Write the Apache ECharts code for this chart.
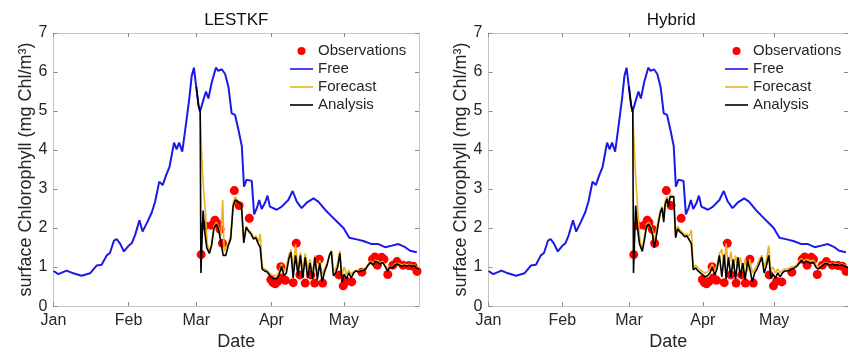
<!DOCTYPE html>
<html>
<head>
<meta charset="utf-8">
<script src="https://cdn.jsdelivr.net/npm/echarts@6/dist/echarts.min.js"></script>
<style>
  html, body { margin: 0; padding: 0; background: #ffffff; }
  #chart { width: 848px; height: 356px; }
</style>
</head>
<body>
<div id="chart"></div>
<script>
// Day of year (0 = 1 Jan) for the month ticks, and their labels
const monthTicks = [0, 31, 59, 90, 120];
const monthLabels = ['Jan', 'Feb', 'Mar', 'Apr', 'May'];
const dayMax = 151;
const chlMax = 7;

const panelTitles = ['LESTKF', 'Hybrid'];
const seriesNames = ['Observations', 'Free', 'Forecast', 'Analysis'];

// Free model run, [day, chlorophyll]
const free = [
  [0, 0.90], [2, 0.82], [5.4, 0.91], [8.2, 0.84], [11.6, 0.78], [15.1, 0.84], [17.8, 1.04],
  [19.9, 1.06], [22, 1.30], [23.3, 1.36], [25, 1.68], [26.1, 1.72], [27.5, 1.60], [29.1, 1.40],
  [30.9, 1.54], [32.3, 1.61], [33.7, 1.82], [35.5, 2.20], [36.8, 1.91], [38.8, 2.16], [40.6, 2.40],
  [42, 2.68], [43.7, 3.19], [45.1, 3.10], [46.5, 3.35], [47.9, 3.56], [49.8, 4.19], [50.9, 4.02],
  [51.9, 4.19], [53.2, 3.96], [54.7, 4.65], [56.1, 5.32], [57.1, 5.90], [58, 6.11], [58.9, 5.65],
  [59.9, 5.15], [60.5, 4.98], [61.9, 5.28], [63, 5.50], [64, 5.32], [65.4, 5.74], [67.1, 6.11],
  [68.1, 6.03], [69.5, 6.07], [70.9, 5.95], [72.3, 5.61], [73.6, 4.94], [75, 4.90], [76.4, 4.52],
  [77.8, 4.10], [78.7, 3.06], [79.8, 3.24], [81.9, 3.21], [82.9, 2.35], [84, 2.51], [85, 2.72],
  [86, 2.49], [87.4, 2.65], [88.4, 2.83], [89.4, 2.55], [92.2, 2.47], [94.3, 2.55], [97, 2.72],
  [98.8, 2.95], [100.5, 2.68], [102.5, 2.51], [104.6, 2.65], [107.4, 2.76], [109.4, 2.68],
  [112.2, 2.47], [114.9, 2.30], [117.7, 2.13], [119.8, 2.00], [122.2, 1.75], [125.3, 1.71],
  [128, 1.67], [131.5, 1.59], [134.2, 1.59], [137, 1.51], [139.8, 1.55], [142.5, 1.59],
  [145.3, 1.51], [147.3, 1.42], [150.1, 1.38]
];

// Satellite observations, [day, chlorophyll]
const observations = [
  [61.0, 1.32], [62.6, 2.06], [65.4, 2.07], [66.7, 2.20], [67.4, 2.14], [68.8, 1.97], [69.8, 1.61],
  [74.7, 2.96], [76.7, 2.58], [80.9, 2.25],
  [89.8, 0.68], [90.7, 0.60], [91.6, 0.57], [92.6, 0.63], [93.9, 1.01], [94.4, 0.72], [95.8, 0.66],
  [99.0, 0.60], [100.3, 1.61], [101.8, 0.80], [104.0, 0.59], [106.3, 0.80], [107.9, 0.59],
  [109.8, 1.20], [111.2, 0.59], [117.9, 0.80], [119.7, 0.52], [121.0, 0.64], [123.2, 0.62],
  [127.4, 0.87], [131.8, 1.20], [132.8, 1.26], [133.8, 1.05], [135.6, 1.25], [136.5, 1.20],
  [138.1, 0.81], [140.2, 1.05], [141.9, 1.14], [144.4, 1.05], [146.8, 1.04], [148.6, 1.02],
  [150.2, 0.89]
];

// LESTKF run
const lestkfForecast = [
  [60.6, 4.98], [61.4, 3.60], [62.1, 2.90], [62.8, 2.40], [63.5, 1.60], [64.4, 1.40], [65.3, 1.60],
  [66.3, 2.05], [67.3, 2.15], [68.3, 2.00], [69.2, 1.80], [69.9, 2.72], [70.5, 1.40], [71.2, 1.35],
  [72.2, 1.60], [73.2, 1.80], [74.2, 2.65], [75.1, 2.80], [76.1, 2.70], [76.9, 2.75], [77.6, 2.65],
  [78.4, 2.65], [78.6, 1.70], [79.6, 2.05], [80.6, 1.95], [81.6, 1.90], [82.6, 1.75], [83.6, 1.80],
  [84.6, 1.65], [85.4, 1.85], [86.2, 1.00], [87.2, 0.95], [88.2, 0.92], [89.2, 0.85], [90.2, 0.80],
  [91.2, 0.78], [92.2, 0.78], [93.2, 0.88], [94.2, 1.08], [95.2, 0.88], [96.2, 1.00], [97.2, 1.30],
  [98.1, 1.45], [99.0, 0.92], [100, 1.58], [101, 0.95], [102, 1.38], [103, 0.90], [104, 1.35],
  [105, 0.95], [106, 1.20], [107, 0.85], [108, 1.30], [109, 0.80], [110, 1.18], [111, 0.80],
  [112, 0.95], [113, 1.10], [114, 1.32], [114.8, 1.42], [115.6, 0.90], [116.5, 0.95], [117.4, 1.10],
  [118.3, 1.42], [119.2, 0.80], [120.1, 1.00], [121, 0.82], [122, 0.92], [123, 0.82], [124, 0.88],
  [125, 0.92], [126, 0.90], [127, 0.92], [128, 0.95], [129, 0.98], [130, 1.08], [131, 1.15],
  [132, 1.10], [133, 1.18], [134, 1.15], [135, 1.10], [136, 1.15], [137, 1.05], [138, 0.95],
  [139, 1.02], [140, 1.00], [141, 1.08], [142, 1.10], [143, 1.08], [144, 1.05], [145, 1.08],
  [146, 1.05], [147, 1.07], [148, 1.04], [149, 1.06], [150, 1.00], [151, 0.97]
];
const lestkfAnalysis = [
  [59, 5.62], [59.9, 5.15], [60.6, 4.98], [60.9, 0.85], [61.8, 2.45], [62.5, 1.90], [63.3, 1.50],
  [64.4, 1.35], [65.3, 1.55], [66.3, 2.00], [67.3, 2.10], [68.3, 1.95], [69.2, 1.62], [70.1, 1.30],
  [71.2, 1.30], [72.2, 1.55], [73.2, 1.72], [74.2, 2.55], [75.1, 2.72], [76.1, 2.68], [76.9, 2.70],
  [77.6, 2.62], [78.4, 2.62], [78.6, 1.62], [79.6, 2.02], [80.6, 1.92], [81.6, 1.85], [82.6, 1.72],
  [83.6, 1.75], [84.6, 1.60], [85.4, 1.50], [86.2, 0.95], [87.2, 0.90], [88.2, 0.88], [89.2, 0.80],
  [90.2, 0.72], [91.2, 0.70], [92.2, 0.70], [93.2, 0.80], [94.2, 1.02], [95.2, 0.78], [96.2, 0.85],
  [97.2, 1.20], [98.1, 1.38], [99, 0.72], [100, 1.30], [101, 0.78], [102, 1.30], [103, 0.72],
  [104, 1.25], [105, 0.72], [106, 1.10], [107, 0.70], [108, 1.25], [109, 0.68], [110, 1.10],
  [111, 0.62], [112, 0.88], [113, 1.05], [114, 1.30], [114.8, 1.40], [115.6, 0.78], [116.5, 0.85],
  [117.4, 1.00], [118.3, 1.35], [119.2, 0.62], [120.1, 0.82], [121, 0.70], [122, 0.85], [123, 0.72],
  [124, 0.85], [125, 0.90], [126, 0.88], [127, 0.90], [128, 0.92], [129, 0.95], [130, 1.05],
  [131, 1.12], [132, 1.05], [133, 1.15], [134, 1.12], [135, 1.08], [136, 1.12], [137, 1.02],
  [138, 0.90], [139, 1.00], [140, 0.98], [141, 1.05], [142, 1.08], [143, 1.05], [144, 1.02],
  [145, 1.05], [146, 1.02], [147, 1.05], [148, 1.02], [149, 1.04], [150, 0.98], [151, 0.95]
];

// Hybrid run
const hybridForecast = [
  [60.6, 4.98], [61.4, 3.80], [62.1, 3.00], [62.9, 2.30], [63.6, 1.70], [64.6, 1.45], [65.5, 1.80],
  [66.4, 2.10], [67.3, 2.15], [68.2, 2.05], [69.0, 1.90], [69.6, 1.60], [70.4, 1.90], [71.3, 2.20],
  [72.2, 2.45], [72.9, 2.55], [73.6, 2.30], [74.2, 2.70], [75.0, 2.80], [75.6, 2.65], [76.3, 2.85],
  [77.1, 2.85], [77.8, 2.82], [78.4, 2.80], [78.6, 1.80], [79.4, 2.05], [80.4, 1.95], [81.4, 1.90],
  [82.4, 1.82], [83.3, 1.85], [84.3, 1.80], [85.2, 1.95], [86.0, 1.00], [87.0, 1.05], [88.0, 0.98],
  [89.0, 0.92], [90.0, 0.88], [91.0, 0.85], [92.0, 0.88], [93.0, 0.95], [94.0, 1.08], [95.0, 0.90],
  [96.0, 1.05], [97.0, 1.35], [98.0, 1.45], [99.0, 1.00], [99.8, 1.60], [100.8, 1.00], [101.8, 1.40],
  [102.8, 0.95], [103.8, 1.30], [104.8, 1.00], [105.8, 1.25], [106.8, 0.90], [107.8, 1.20],
  [108.8, 0.90], [109.8, 1.20], [110.8, 0.85], [111.8, 0.95], [112.8, 1.05], [113.8, 1.20],
  [114.8, 1.30], [115.8, 1.00], [116.8, 1.20], [117.7, 1.55], [118.6, 0.90], [119.5, 1.00],
  [120.5, 0.85], [121.5, 0.95], [122.5, 0.85], [123.5, 0.92], [124.5, 0.95], [125.5, 0.95],
  [126.5, 0.98], [127.5, 1.00], [128.5, 1.02], [129.5, 1.05], [130.5, 1.15], [131.5, 1.22],
  [132.5, 1.15], [133.5, 1.20], [134.5, 1.18], [135.5, 1.15], [136.5, 1.18], [137.5, 1.05],
  [138.5, 1.00], [139.5, 1.05], [140.5, 1.08], [141.5, 1.12], [142.5, 1.10], [143.5, 1.08],
  [144.5, 1.10], [145.5, 1.08], [146.5, 1.08], [147.5, 1.06], [148.5, 1.08], [149.5, 1.05],
  [150.5, 1.02], [151, 1.00]
];
const hybridAnalysis = [
  [59, 5.62], [59.9, 5.15], [60.6, 4.98], [60.9, 0.85], [61.8, 2.58], [62.6, 2.00], [63.4, 1.60],
  [64.6, 1.40], [65.5, 1.70], [66.4, 2.05], [67.3, 2.10], [68.2, 2.00], [69.0, 1.80], [69.6, 1.50],
  [70.4, 1.75], [71.3, 2.10], [72.2, 2.40], [72.9, 2.52], [73.6, 2.15], [74.2, 2.60], [75.0, 2.75],
  [75.6, 2.55], [76.3, 2.80], [77.1, 2.82], [77.8, 2.80], [78.4, 2.78], [78.6, 1.75], [79.4, 1.98],
  [80.4, 1.90], [81.4, 1.85], [82.4, 1.78], [83.3, 1.80], [84.3, 1.70], [85.2, 1.60], [86.0, 0.93],
  [87.0, 0.98], [88.0, 0.90], [89.0, 0.85], [90.0, 0.80], [91.0, 0.75], [92.0, 0.78], [93.0, 0.85],
  [94.0, 1.00], [95.0, 0.80], [96.0, 0.95], [97.0, 1.30], [98.0, 0.75], [99.0, 1.32], [99.8, 0.70],
  [100.8, 1.25], [101.8, 0.75], [102.8, 1.20], [103.8, 0.70], [104.8, 1.25], [105.8, 0.75],
  [106.8, 1.10], [107.8, 0.68], [108.8, 1.15], [109.8, 0.95], [110.8, 0.62], [111.8, 0.85],
  [112.8, 0.95], [113.8, 1.10], [114.8, 1.25], [115.8, 0.85], [116.8, 1.05], [117.7, 1.30],
  [118.6, 0.70], [119.5, 0.82], [120.5, 0.72], [121.5, 0.85], [122.5, 0.75], [123.5, 0.85],
  [124.5, 0.90], [125.5, 0.90], [126.5, 0.92], [127.5, 0.95], [128.5, 0.98], [129.5, 1.02],
  [130.5, 1.10], [131.5, 1.18], [132.5, 1.10], [133.5, 1.15], [134.5, 1.12], [135.5, 1.10],
  [136.5, 1.12], [137.5, 1.00], [138.5, 0.95], [139.5, 1.00], [140.5, 1.05], [141.5, 1.10],
  [142.5, 1.08], [143.5, 1.05], [144.5, 1.08], [145.5, 1.05], [146.5, 1.06], [147.5, 1.04],
  [148.5, 1.06], [149.5, 1.03], [150.5, 1.00], [151, 0.98]
];

const panels = [
  { title: panelTitles[0], forecast: lestkfForecast, analysis: lestkfAnalysis },
  { title: panelTitles[1], forecast: hybridForecast, analysis: hybridAnalysis }
];

const FONT = '"Liberation Sans", Arial, Helvetica, sans-serif';
const TEXT = '#262626';
const AXIS = '#c4c4c4';
const TICK = '#8a8a8a';
const BLUE = '#1a1ae6';
const ORANGE = '#EDB120';
const RED = '#ff0000';

// Plot box of each panel (the second one runs a little past the page edge)
const boxes = [
  { left: 53.5, top: 33, width: 365.5, height: 279 },
  { left: 488.5, top: 33, width: 365.5, height: 279 }
];

const grid = [], xAxis = [], yAxis = [], series = [], title = [], legend = [];
const lineIcon = 'path://M0,0H23V1.6H0Z';

panels.forEach((p, i) => {
  const b = boxes[i];
  grid.push({ left: b.left, top: b.top, width: b.width, height: b.height, containLabel: false });

  title.push({
    text: p.title,
    left: b.left + b.width / 2,
    textAlign: 'center',
    top: 12,
    padding: 0,
    textStyle: { fontFamily: FONT, fontSize: 17, fontWeight: 'normal', color: '#111' }
  });

  const tickCommon = { show: true, inside: true, length: 4, lineStyle: { color: TICK, width: 1 } };

  // bottom axis with month labels
  xAxis.push({
    type: 'value', gridIndex: i, position: 'bottom', min: 0, max: dayMax,
    axisLine: { show: true, onZero: false, lineStyle: { color: AXIS, width: 1 } },
    axisTick: Object.assign({ customValues: monthTicks }, tickCommon),
    axisLabel: {
      customValues: monthTicks,
      formatter: v => monthLabels[monthTicks.indexOf(v)],
      fontFamily: FONT, fontSize: 16, color: TEXT, margin: 6
    },
    splitLine: { show: false },
    name: 'Date', nameLocation: 'middle', nameGap: 24,
    nameTextStyle: { fontFamily: FONT, fontSize: 18, color: TEXT }
  });
  // top frame with ticks
  xAxis.push({
    type: 'value', gridIndex: i, position: 'top', min: 0, max: dayMax,
    axisLine: { show: true, onZero: false, lineStyle: { color: AXIS, width: 1 } },
    axisTick: Object.assign({ customValues: monthTicks }, tickCommon),
    axisLabel: { show: false },
    splitLine: { show: false }
  });
  // left axis
  yAxis.push({
    type: 'value', gridIndex: i, position: 'left', min: 0, max: chlMax, interval: 1,
    axisLine: { show: true, onZero: false, lineStyle: { color: AXIS, width: 1 } },
    axisTick: tickCommon,
    axisLabel: { fontFamily: FONT, fontSize: 16, color: TEXT, margin: 6 },
    splitLine: { show: false },
    name: 'surface Chlorophyll (mg Chl/m³)', nameLocation: 'middle', nameGap: 17, nameRotate: 90,
    nameTextStyle: { fontFamily: FONT, fontSize: 18, color: TEXT }
  });
  // right frame with ticks
  yAxis.push({
    type: 'value', gridIndex: i, position: 'right', min: 0, max: chlMax, interval: 1,
    axisLine: { show: true, onZero: false, lineStyle: { color: AXIS, width: 1 } },
    axisTick: tickCommon,
    axisLabel: { show: false },
    splitLine: { show: false }
  });

  const xi = i * 2, yi = i * 2;
  series.push({
    name: seriesNames[0], type: 'scatter', xAxisIndex: xi, yAxisIndex: yi,
    data: observations, symbol: 'circle', symbolSize: 9,
    itemStyle: { color: RED, opacity: 1 }, z: 2
  });
  series.push({
    name: seriesNames[1], type: 'line', xAxisIndex: xi, yAxisIndex: yi,
    data: free, showSymbol: false, symbol: 'none',
    lineStyle: { color: BLUE, width: 2 }, itemStyle: { color: BLUE }, z: 3
  });
  series.push({
    name: seriesNames[2], type: 'line', xAxisIndex: xi, yAxisIndex: yi,
    data: p.forecast, showSymbol: false, symbol: 'none',
    lineStyle: { color: ORANGE, width: 1.6 }, itemStyle: { color: ORANGE }, z: 4
  });
  series.push({
    name: seriesNames[3], type: 'line', xAxisIndex: xi, yAxisIndex: yi,
    data: p.analysis, showSymbol: false, symbol: 'none',
    lineStyle: { color: '#000000', width: 1.6 }, itemStyle: { color: '#000000' }, z: 5
  });

  legend.push({
    orient: 'vertical',
    left: b.left + b.width - 129,
    top: 43,
    padding: 0,
    itemWidth: 23,
    itemHeight: 8,
    itemGap: 2,
    selectedMode: false,
    textStyle: { fontFamily: FONT, fontSize: 15, color: TEXT, lineHeight: 16 },
    data: [
      { name: seriesNames[0], icon: 'circle' },
      { name: seriesNames[1], icon: lineIcon },
      { name: seriesNames[2], icon: lineIcon },
      { name: seriesNames[3], icon: lineIcon }
    ]
  });
});

const chart = echarts.init(document.getElementById('chart'), null, { renderer: 'canvas' });
chart.setOption({
  backgroundColor: '#ffffff',
  animation: false,
  title, legend, grid, xAxis, yAxis, series
});
</script>
</body>
</html>
